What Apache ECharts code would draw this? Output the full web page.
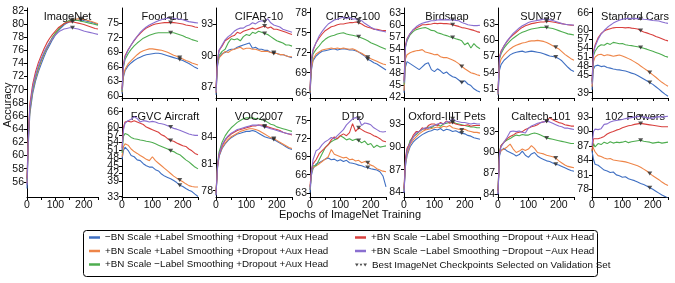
<!DOCTYPE html>
<html><head><meta charset="utf-8">
<script src="https://cdn.jsdelivr.net/npm/echarts@6/dist/echarts.min.js"></script>
<style>html,body{margin:0;padding:0;background:#fff}#c{width:675px;height:283px}</style>
</head><body><div id="c"></div>
<script>
// ---------------- DATA ----------------
const epochs = [0,5,10,20,30,40,50,60,70,80,90,100,110,120,130,140,150,160,170,180,190,200,210,220,230,240,250];
const seriesNames = [
  '\u2212BN Scale +Label Smoothing +Dropout +Aux Head',
  '+BN Scale +Label Smoothing +Dropout +Aux Head',
  '+BN Scale \u2212Label Smoothing +Dropout +Aux Head',
  '+BN Scale \u2212Label Smoothing \u2212Dropout +Aux Head',
  '+BN Scale \u2212Label Smoothing \u2212Dropout \u2212Aux Head'
];
const markerName = 'Best ImageNet Checkpoints Selected on Validation Set';
const bestEpochs = [190,190,160,160,160];
const panelTitles = ['ImageNet','Food-101','CIFAR-10','CIFAR-100','Birdsnap','SUN397','Stanford Cars',
  'FGVC Aircraft','VOC2007','DTD','Oxford-IIIT Pets','Caltech-101','102 Flowers'];
const xTicks = [0,50,100,150,200,250];
const xTickLabels = [0,100,200];

const ticksImageNet = [56,58,60,62,64,66,68,70,72,74,76,78,80,82];
const ticksFood = [60,63,66,69,72,75];
const ticksCifar10 = [87,90,93];
const ticksCifar100 = [66,69,72,75,78];
const ticksBirdsnap = [42,45,48,51,54,57,60,63];
const ticksSun = [51,54,57,60,63];
const ticksCars = [39,42,45,48,51,54,57,60,63,66];
const ticksAircraft = [33,36,39,42,45,48,51,54,57,60,63,66];
const ticksVoc = [78,81,84];
const ticksDtd = [63,66,69,72,75];
const ticksPets = [84,87,90,93];
const ticksCaltech = [84,87,90,93];
const ticksFlowers = [78,81,84,87,90,93];

// each: [blue, orange, green, red, purple], values at `epochs`
const imagenet = [
 [55.0,62.0,66.3,69.4,71.3,72.7,73.9,75.0,76.0,76.8,77.6,78.3,78.9,79.4,79.8,80.1,80.3,80.4,80.5,80.55,80.6,80.5,80.4,80.3,80.2,80.05,79.9],
 [55.8,62.5,66.8,69.8,71.7,73.1,74.3,75.4,76.3,77.1,77.8,78.5,79.1,79.6,80.0,80.3,80.5,80.6,80.7,80.75,80.75,80.65,80.55,80.45,80.3,80.15,80.0],
 [56.2,62.8,67.0,70.0,71.9,73.3,74.5,75.5,76.4,77.2,78.0,78.6,79.1,79.6,80.0,80.3,80.5,80.6,80.55,80.5,80.4,80.3,80.2,80.1,80.0,79.9,79.8],
 [56.5,63.5,67.8,70.8,72.7,74.1,75.2,76.2,77.1,77.8,78.4,78.9,79.4,79.7,80.0,80.2,80.3,80.3,80.2,80.1,80.0,79.9,79.75,79.6,79.45,79.3,79.2],
 [55.5,63.0,67.3,70.3,72.2,73.6,74.7,75.7,76.5,77.2,77.8,78.3,78.7,79.0,79.2,79.3,79.4,79.4,79.3,79.2,79.05,78.9,78.8,78.7,78.6,78.5,78.4]
];
const food101 = [
 [60.5,64.0,65.2,66.2,66.8,67.3,67.7,68.0,68.3,68.5,68.6,68.7,68.8,68.8,68.7,68.5,68.3,68.1,67.9,67.7,67.5,67.3,67.0,66.7,66.3,65.9,65.6],
 [60.8,64.3,65.5,66.6,67.3,67.9,68.5,69.0,69.3,69.5,69.7,69.7,69.6,69.5,69.4,69.2,69.0,68.7,68.4,68.2,67.9,67.6,67.3,67.1,66.8,66.6,66.4],
 [61.0,66.0,67.5,68.7,69.6,70.3,70.9,71.4,71.9,72.2,72.5,72.7,72.9,73.0,73.0,73.0,73.0,73.0,73.0,72.8,72.6,72.4,72.1,71.9,71.6,71.4,71.2],
 [61.5,66.5,68.3,69.5,70.5,71.4,72.2,72.9,73.5,74.0,74.3,74.6,74.8,74.9,75.0,75.1,75.1,75.1,75.1,75.0,74.9,74.8,74.6,74.5,74.4,74.2,74.1],
 [61.2,66.3,68.0,69.4,70.5,71.5,72.3,73.1,73.7,74.2,74.6,74.9,75.2,75.5,75.7,75.9,76.0,76.0,76.0,75.9,75.8,75.7,75.5,75.3,75.2,75.1,75.0]
];
const cifar10 = [
 [86.3,89.0,89.8,90.2,90.3,90.5,90.6,90.6,90.8,90.9,91.0,91.1,91.2,90.7,90.8,90.6,90.6,90.5,90.5,90.3,90.3,90.2,90.1,90.1,90.0,89.9,89.8],
 [86.5,89.2,89.8,90.1,90.4,90.3,90.5,90.6,90.7,90.8,90.6,90.7,90.7,90.6,90.6,90.5,90.4,90.4,90.4,90.3,90.2,90.2,90.1,90.1,90.0,89.9,89.9],
 [86.8,89.3,90.0,90.4,90.6,91.2,91.6,91.5,91.6,91.4,91.8,92.0,91.9,92.2,92.1,92.3,92.2,92.1,92.0,91.8,91.6,91.4,91.3,91.2,91.0,91.0,90.9],
 [87.0,89.6,90.5,90.9,91.4,91.6,91.8,91.9,92.2,92.1,92.3,92.4,92.5,92.6,92.5,92.6,92.7,92.8,92.6,92.7,92.5,92.5,92.4,92.3,92.2,92.1,92.0],
 [86.6,89.4,90.5,91.0,91.5,91.8,92.0,92.3,92.5,92.6,92.6,92.8,92.9,93.1,93.0,93.2,93.3,93.2,93.5,93.1,92.9,92.8,92.7,92.5,92.4,92.3,92.2]
];
const cifar100 = [
 [65.8,69.5,70.8,71.5,71.9,72.2,72.3,72.4,72.5,72.6,72.4,72.5,72.6,72.5,72.4,72.4,72.3,72.1,71.8,71.5,71.0,70.8,70.5,70.3,70.0,69.7,69.4],
 [66.0,69.8,71.0,71.8,72.1,72.4,72.5,72.6,72.7,72.6,72.7,72.6,72.7,72.6,72.5,72.6,72.4,72.1,71.9,71.6,71.3,71.1,70.9,70.7,70.5,70.3,70.2],
 [66.2,70.5,71.8,72.5,73.0,73.6,74.0,74.3,74.5,74.6,74.8,74.9,75.0,74.8,74.7,74.6,74.5,74.4,74.2,74.0,73.8,73.5,73.3,73.1,72.9,72.7,72.5],
 [66.5,71.2,72.3,73.5,74.2,74.8,75.3,75.6,75.9,76.0,76.2,76.3,76.3,76.4,76.5,76.5,76.6,76.5,76.3,76.0,75.8,75.7,75.5,75.5,75.4,75.3,75.3],
 [66.3,71.0,72.5,73.5,74.5,75.2,75.8,76.3,76.6,76.9,77.0,77.2,77.3,77.1,77.3,77.0,77.1,76.9,76.8,76.4,76.1,75.8,75.6,75.4,75.3,75.2,75.1]
];
const birdsnap = [
 [43.0,49.5,50.8,50.3,49.8,49.3,48.8,49.5,50.2,50.5,48.8,48.3,49.0,48.5,47.8,48.2,47.5,47.0,46.8,46.2,45.6,46.0,45.2,44.8,44.0,43.5,43.2],
 [43.5,51.5,52.5,53.0,53.3,53.5,53.6,53.8,53.2,53.0,52.8,52.5,52.6,52.0,51.8,51.8,51.5,51.2,50.8,50.3,49.6,49.0,48.5,48.0,47.8,47.5,47.3],
 [45.0,54.5,56.0,57.5,58.3,58.8,59.0,59.2,59.3,59.0,58.6,58.5,58.0,57.8,57.5,57.3,57.0,56.8,56.5,56.3,56.0,55.0,55.5,54.2,55.3,54.5,54.0],
 [46.0,55.0,56.5,57.8,58.7,59.2,59.6,60.0,60.0,60.1,60.2,60.4,60.3,60.4,60.3,60.3,60.2,60.0,59.8,59.6,59.3,59.2,59.0,58.8,58.6,58.3,58.1],
 [45.5,54.5,56.3,57.8,58.8,59.5,60.0,60.4,60.6,60.8,61.0,61.0,61.2,61.3,61.2,61.3,61.2,61.3,61.1,61.0,60.6,60.3,60.0,59.9,59.8,59.8,59.9]
];
const sun397 = [
 [49.8,54.5,55.5,56.3,56.8,57.3,57.6,57.8,57.9,58.0,57.8,57.9,58.0,57.9,57.8,57.7,57.5,57.3,57.1,57.0,56.9,56.6,56.2,55.6,55.0,54.5,54.2],
 [50.0,55.5,56.5,57.3,57.9,58.4,58.8,59.1,59.3,59.5,59.6,59.8,59.9,59.9,60.0,59.9,59.8,59.6,59.3,59.0,58.7,58.4,57.9,57.4,57.0,56.6,56.3],
 [50.3,56.5,57.5,58.6,59.3,59.9,60.4,60.8,61.2,61.5,61.7,61.9,62.1,62.2,62.3,62.4,62.4,62.4,62.3,62.2,62.0,61.8,61.6,61.4,61.2,61.1,61.0],
 [50.5,57.0,58.0,59.0,59.8,60.5,61.0,61.5,62.0,62.4,62.7,62.9,63.1,63.2,63.3,63.4,63.4,63.5,63.5,63.4,63.3,63.2,63.1,63.0,62.9,62.8,62.8],
 [50.2,56.8,57.8,59.0,59.9,60.6,61.3,61.8,62.3,62.7,63.0,63.3,63.5,63.6,63.7,63.8,63.9,63.9,63.8,63.7,63.5,63.3,63.1,63.0,62.9,62.9,62.8]
];
const cars = [
 [40.0,47.0,48.0,48.3,47.8,48.0,47.5,47.3,47.0,46.8,46.7,46.5,46.3,46.0,45.6,45.3,44.8,44.2,43.6,43.0,42.4,41.8,41.0,40.2,39.3,38.5,37.8],
 [41.0,49.5,51.0,51.8,52.0,51.5,51.8,51.6,51.3,51.5,51.7,51.4,51.0,50.5,50.0,49.4,48.8,48.0,47.3,46.6,45.8,45.0,44.2,43.3,42.5,41.8,41.2],
 [42.5,51.5,53.0,54.5,55.2,55.0,55.7,55.3,56.0,55.8,55.5,55.6,55.2,55.0,54.9,54.7,54.5,54.3,54.0,53.7,53.3,53.0,52.6,52.2,51.8,51.3,51.0],
 [43.0,53.0,55.0,57.5,59.0,59.8,60.3,60.6,60.9,61.0,61.0,61.0,60.9,61.0,60.8,60.7,60.5,60.0,59.5,59.2,58.8,58.5,58.0,57.6,57.2,56.8,56.5],
 [42.0,52.5,54.5,57.0,58.8,60.0,61.0,61.8,62.5,63.0,63.5,63.8,64.0,64.1,64.0,64.1,64.0,64.0,63.8,63.7,63.6,63.4,63.3,63.2,62.9,62.6,62.4]
];
const aircraft = [
 [47.5,51.0,52.2,51.0,49.0,48.5,47.3,47.0,45.8,45.0,44.5,44.5,43.5,43.0,41.8,41.0,40.5,40.0,39.3,38.5,37.5,37.0,36.2,35.5,35.0,34.0,33.1],
 [48.5,52.5,53.5,53.0,51.5,50.5,49.8,49.0,48.3,47.5,47.0,48.5,47.0,46.0,45.0,44.0,43.0,42.0,41.0,40.2,39.5,38.8,38.0,37.3,37.0,36.8,36.8],
 [50.0,56.5,57.5,57.0,56.0,55.5,55.3,55.0,54.8,54.5,54.3,54.0,53.5,53.0,52.5,52.0,51.5,50.8,50.5,49.8,49.3,48.3,47.3,46.5,45.5,44.5,43.8],
 [52.0,60.0,62.0,62.3,62.0,62.5,62.0,61.5,61.0,60.0,59.5,59.0,58.5,58.0,57.0,56.5,55.5,54.8,54.5,53.8,53.3,52.8,52.5,51.5,50.8,49.8,49.3],
 [51.0,59.0,61.5,62.5,63.0,64.0,63.3,62.0,62.5,62.3,62.0,62.2,62.0,61.5,61.3,61.0,60.5,60.0,59.5,59.2,58.8,58.3,57.8,57.3,57.0,56.8,56.8]
];
const voc2007 = [
 [77.5,80.5,81.8,82.7,83.2,83.6,83.9,84.1,84.3,84.4,84.5,84.6,84.6,84.7,84.6,84.4,84.2,84.0,83.9,83.8,83.7,83.5,83.3,83.1,82.9,82.7,82.6],
 [77.6,80.6,81.9,82.8,83.3,83.7,84.0,84.2,84.4,84.6,84.7,84.8,84.9,84.9,84.8,84.7,84.5,84.3,84.1,83.9,83.8,83.6,83.4,83.2,83.0,82.8,82.7],
 [77.7,81.0,82.3,83.4,84.1,84.6,85.0,85.3,85.6,85.8,86.0,86.1,86.1,86.1,86.0,86.0,85.9,85.8,85.6,85.4,85.3,85.1,85.0,84.9,84.8,84.7,84.6],
 [77.8,80.8,82.0,83.0,83.6,84.0,84.3,84.5,84.7,84.8,84.9,85.0,85.1,85.2,85.2,85.3,85.3,85.2,85.1,85.0,84.9,84.8,84.7,84.5,84.4,84.3,84.2],
 [77.5,80.7,82.0,83.1,83.7,84.1,84.4,84.6,84.8,84.9,85.0,85.1,85.2,85.3,85.3,85.3,85.2,85.1,85.0,84.9,84.8,84.7,84.6,84.5,84.4,84.3,84.3]
];
const dtd = [
 [63.0,66.0,67.0,67.8,68.0,68.3,68.6,68.8,68.5,68.6,68.3,68.5,68.2,68.4,68.0,67.9,67.8,67.6,67.5,67.3,67.2,67.0,66.9,66.8,66.5,65.8,64.0],
 [63.5,66.3,67.2,67.5,67.8,68.2,68.6,69.0,70.2,69.4,69.2,69.0,68.8,68.9,68.5,68.6,68.3,68.4,68.0,68.2,68.0,67.6,67.4,67.0,66.8,66.6,66.5],
 [63.5,66.5,67.5,67.5,68.5,69.5,70.5,71.0,71.5,71.8,72.0,72.5,72.2,71.8,72.0,71.7,71.9,71.7,71.3,71.6,71.0,71.2,70.5,70.9,70.6,70.7,70.8],
 [64.0,67.0,67.8,68.5,69.5,70.0,70.5,71.0,71.8,72.3,72.0,72.5,72.8,72.5,73.0,74.5,73.2,73.8,73.5,73.2,73.0,72.8,72.5,72.3,72.0,71.6,71.5],
 [63.5,66.5,68.5,70.0,70.3,71.0,71.5,71.8,72.2,72.0,72.5,73.0,73.5,74.3,74.8,75.3,75.5,75.4,74.2,74.6,74.5,74.3,73.8,73.5,73.2,73.1,73.2]
];
const pets = [
 [84.0,87.5,88.8,90.0,90.6,91.0,91.3,91.6,91.8,92.0,92.1,92.3,92.2,92.4,92.1,92.3,92.2,92.0,92.1,91.9,91.8,91.7,91.5,91.4,91.2,91.1,91.0],
 [84.2,87.8,89.0,90.3,90.9,91.3,91.7,92.0,92.2,92.3,92.4,92.5,92.6,92.5,92.7,92.6,92.8,92.5,92.4,92.3,92.2,92.3,92.1,92.0,91.9,91.9,91.8],
 [84.3,88.2,89.5,90.8,91.3,91.6,92.0,92.3,92.4,92.6,92.5,92.8,92.9,92.7,93.0,93.1,93.2,93.3,93.1,93.0,92.9,92.8,92.7,92.6,92.6,92.5,92.5],
 [84.5,88.5,89.8,90.5,91.5,92.0,92.0,92.5,92.3,92.8,93.0,93.0,92.8,93.2,93.0,93.4,93.1,93.2,93.0,92.9,92.8,92.8,92.9,92.7,92.8,92.8,92.8],
 [84.0,88.0,89.5,90.5,91.2,91.8,92.0,92.3,92.5,92.4,92.7,92.8,93.0,93.1,93.0,93.3,93.3,93.7,93.4,93.3,93.2,93.2,93.1,93.0,93.1,93.0,93.0]
];
const caltech = [
 [84.0,89.5,90.3,90.6,90.2,90.0,89.8,89.5,89.7,90.2,89.6,89.3,89.8,90.0,89.5,89.2,89.0,88.8,88.7,88.5,88.3,88.2,88.0,87.8,87.6,87.4,87.3],
 [84.2,89.8,90.3,90.5,90.8,91.2,90.5,90.0,90.2,90.5,90.3,90.5,91.0,90.6,90.0,89.9,89.8,89.6,89.5,89.4,89.2,88.8,88.5,88.2,88.0,87.9,87.8],
 [84.5,90.2,91.0,91.5,91.8,92.0,92.3,92.5,92.4,92.6,92.5,92.5,92.7,92.8,92.7,92.5,92.3,92.1,92.0,91.9,91.8,91.7,91.6,91.5,91.4,91.3,91.3],
 [84.5,90.0,91.0,91.5,92.0,92.3,92.5,92.8,92.9,93.0,93.3,93.5,93.7,93.8,94.0,94.3,94.4,94.5,95.0,94.7,94.5,94.3,94.2,94.0,93.9,93.8,93.8],
 [84.0,89.8,90.8,91.5,92.2,93.0,93.1,93.0,93.1,92.9,92.8,93.5,93.8,94.0,94.2,94.3,94.4,94.5,94.4,94.2,94.0,93.8,93.7,93.5,93.5,93.4,93.3]
];
const flowers = [
 [86.0,84.2,83.2,83.0,82.5,82.0,81.8,81.5,81.6,81.0,80.8,80.5,80.6,80.2,80.0,79.8,79.5,79.2,79.0,78.7,78.3,78.0,77.6,77.2,76.8,76.5,76.2],
 [87.0,86.5,85.8,85.0,84.8,84.5,84.3,84.4,84.1,84.0,83.9,83.8,83.7,83.5,83.3,83.1,82.9,82.6,82.2,81.8,81.3,80.8,80.4,80.0,79.5,79.1,78.8],
 [86.0,87.5,86.8,87.5,87.3,87.8,87.5,87.9,87.6,87.8,87.7,87.8,88.0,87.7,87.9,88.0,88.1,88.2,88.0,87.9,87.8,87.6,87.7,87.8,87.6,87.7,87.8],
 [86.0,88.5,88.8,88.5,88.7,89.0,89.5,89.8,90.0,90.3,90.5,90.8,91.0,91.2,91.3,91.5,91.6,91.7,91.6,91.5,91.4,91.3,91.2,91.1,91.0,91.0,91.0],
 [87.0,90.0,90.5,90.4,90.6,91.5,91.6,92.0,92.2,92.3,92.4,92.5,92.7,92.8,92.9,93.0,93.1,93.2,93.0,92.9,92.8,92.8,93.0,93.1,93.0,93.1,93.2]
];

// ---------------- LAYOUT / STYLE ----------------
const FONT = '"Liberation Sans", Arial, Helvetica, sans-serif';
const colors = ['#3f6fc2', '#ee8548', '#4ead4f', '#d8403e', '#8a6fd0'];
const panelData = [imagenet, food101, cifar10, cifar100, birdsnap, sun397, cars, aircraft, voc2007, dtd, pets, caltech, flowers];
const panelTicks = [ticksImageNet, ticksFood, ticksCifar10, ticksCifar100, ticksBirdsnap, ticksSun, ticksCars,
  ticksAircraft, ticksVoc, ticksDtd, ticksPets, ticksCaltech, ticksFlowers];
const yRange = [[53.7,82.4],[59.6,78.1],[86.0,94.5],[65.2,78.7],[41.7,64.2],[49.3,66.0],[37.2,67.6],
  [32.9,67.4],[77.3,87.2],[62.3,77.1],[83.4,95.1],[83.6,96.4],[76.4,94.9]];

function boxOf(i) {
  if (i === 0) return {left: 27, top: 8, width: 71, height: 189, xl: true};
  const col = (i - 1) % 6, row = Math.floor((i - 1) / 6);
  return {left: 122 + 94 * col, top: row === 0 ? 8 : 108, width: 76, height: row === 0 ? 90 : 89, xl: row === 1};
}

const grid = [], xAxis = [], yAxis = [], series = [], title = [];
panelData.forEach((pd, i) => {
  const b = boxOf(i);
  grid.push({left: b.left, top: b.top, width: b.width, height: b.height, containLabel: false});
  title.push({text: panelTitles[i], left: b.left + b.width / 2, top: b.top - 2, textAlign: 'center',
    textStyle: {fontSize: 11, fontWeight: 'normal', color: '#111', fontFamily: FONT}});
  xAxis.push({gridIndex: i, type: 'value', min: 0, max: 250,
    axisLine: {show: true, lineStyle: {color: '#000', width: 1}},
    axisTick: {show: true, customValues: xTicks, length: 3, lineStyle: {color: '#000'}},
    axisLabel: {show: b.xl, customValues: xTickLabels, fontSize: 10.5, color: '#111', margin: 3, fontFamily: FONT,
      showMinLabel: true, showMaxLabel: true, hideOverlap: false},
    splitLine: {show: false}});
  yAxis.push({gridIndex: i, type: 'value', min: yRange[i][0], max: yRange[i][1],
    axisLine: {show: true, lineStyle: {color: '#000', width: 1}},
    axisTick: {show: true, customValues: panelTicks[i], length: 3, lineStyle: {color: '#000'}},
    axisLabel: {customValues: panelTicks[i], fontSize: 10.5, color: '#111', margin: 3, fontFamily: FONT,
      showMinLabel: true, showMaxLabel: true, hideOverlap: false},
    splitLine: {show: false}});
  pd.forEach((vals, s) => {
    series.push({type: 'line', name: seriesNames[s], xAxisIndex: i, yAxisIndex: i,
      data: epochs.map((e, k) => [e, vals[k]]), showSymbol: false, symbol: 'none',
      lineStyle: {width: 1.1, color: colors[s]}, itemStyle: {color: colors[s]}, z: 2 + s, animation: false});
  });
  series.push({type: 'scatter', name: markerName, xAxisIndex: i, yAxisIndex: i,
    data: bestEpochs.map((e, s) => [e, pd[s][epochs.indexOf(e)]]),
    symbol: 'triangle', symbolRotate: 180, symbolSize: [5, 4],
    itemStyle: {color: '#2a2a2a'}, z: 10, animation: false});
});

const legendText = {fontSize: 9.8, color: '#111', fontFamily: FONT};
const option = {
  animation: false,
  backgroundColor: '#fff',
  title, grid, xAxis, yAxis, series,
  legend: [
    {orient: 'vertical', left: 89, top: 232.5, padding: 0, icon: 'rect', itemWidth: 11, itemHeight: 2.5, itemGap: 3.5,
     selectedMode: false, data: seriesNames.slice(0, 3), textStyle: legendText},
    {orient: 'vertical', left: 355, top: 232.5, padding: 0, icon: 'rect', itemWidth: 11, itemHeight: 2.5, itemGap: 3.5,
     selectedMode: false, data: seriesNames.slice(3, 5), textStyle: legendText},
    {orient: 'vertical', left: 355, top: 260, padding: 0, itemWidth: 12, itemHeight: 4, selectedMode: false,
     data: [{name: markerName, icon: 'path://M0,0L4,0L2,3.5ZM5,0.5L8,0.5L6.5,3.2ZM9,0L13,0L11,3.5Z'}],
     itemStyle: {color: '#222'}, textStyle: legendText}
  ],
  graphic: [
    {type: 'rect', shape: {x: 83.5, y: 230.5, width: 514, height: 46, r: 3}, style: {fill: 'none', stroke: '#000', lineWidth: 1}, silent: true},
    {type: 'text', x: 8, y: 105, rotation: Math.PI / 2,
     style: {text: 'Accuracy', font: '11px ' + FONT, fill: '#111', textAlign: 'center', textVerticalAlign: 'middle'}},
    {type: 'text', x: 350, y: 215,
     style: {text: 'Epochs of ImageNet Training', font: '11px ' + FONT, fill: '#111', textAlign: 'center', textVerticalAlign: 'middle'}}
  ]
};
const chart = echarts.init(document.getElementById('c'), null, {renderer: 'canvas'});
chart.setOption(option);
</script></body></html>
